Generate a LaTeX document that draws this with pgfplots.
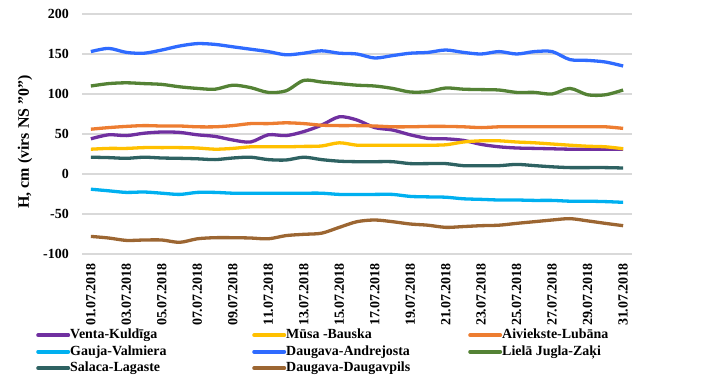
\documentclass[border=0pt]{standalone}
\usepackage{pgfplots}
\pgfplotsset{compat=1.18}
\usepackage{fontspec}
\setmainfont{Liberation Serif}
\definecolor{cVenta}{HTML}{7030A0}
\definecolor{cMusa}{HTML}{FFC000}
\definecolor{cAiv}{HTML}{ED7D31}
\definecolor{cGauja}{HTML}{00B0F0}
\definecolor{cAndr}{HTML}{2F6BFF}
\definecolor{cJugla}{HTML}{548235}
\definecolor{cSalaca}{HTML}{2E6262}
\definecolor{cDpils}{HTML}{9C6632}
\definecolor{gridgray}{HTML}{D9D9D9}
\begin{document}
\begin{tikzpicture}
\begin{axis}[
  at={(82bp,-254bp)}, anchor=south west,
  scale only axis, width=550bp, height=240bp,
  xmin=-0.5, xmax=30.5, ymin=-100, ymax=200,
  ytick={-100,-50,0,50,100,150,200},
  xtick={0,2,...,30},
  xticklabels={01.07.2018,03.07.2018,05.07.2018,07.07.2018,09.07.2018,11.07.2018,13.07.2018,15.07.2018,17.07.2018,19.07.2018,21.07.2018,23.07.2018,25.07.2018,27.07.2018,29.07.2018,31.07.2018},
  axis line style={draw=none},
  major tick length=0pt,
  ymajorgrids, grid style={color=gridgray, line width=1.2bp},
  /pgf/number format/assume math mode=true,
  tick label style={font=\fontsize{14}{16}\selectfont\bfseries, text=black},
  xticklabel style={rotate=90, anchor=east, inner ysep=0pt, inner xsep=9bp},
  yticklabel style={anchor=east, inner xsep=0pt, xshift=-13bp},
  ylabel={H, cm (virs NS "0")},
  ylabel style={font=\fontsize{16}{18}\selectfont\bfseries, at={(rel axis cs:-0.1036,0.467)}, anchor=center, rotate=0},
  legend columns=3,
  legend style={at={(rel axis cs:-0.0836,-0.3125)}, anchor=north west, draw=none, fill=none, inner sep=0pt,
    row sep=4.5bp, column sep=0pt, font=\fontsize{14}{16}\selectfont\bfseries,
    nodes={inner sep=0pt, text height=9.5bp, text depth=2.5bp}},
  legend image code/.code={\draw[#1, line width=4bp, line cap=round] (2bp,0bp) -- (32bp,0bp);},
  every axis plot/.append style={line width=3.3bp, smooth, tension=0.5, no marks},
]
\addplot[color=cVenta] coordinates {(0,44)(1,49)(2,48)(3,51)(4,52.5)(5,52)(6,49)(7,47)(8,42.5)(9,40)(10,49)(11,48)(12,53)(13,61)(14,71.5)(15,67.5)(16,58)(17,55)(18,49)(19,44.5)(20,44)(21,42)(22,37)(23,34)(24,32.5)(25,32)(26,31.5)(27,31)(28,31)(29,31)(30,31)};
\addlegendentry{\makebox[182bp][l]{Venta-Kuldīga}}
\addplot[color=cMusa] coordinates {(0,31)(1,32)(2,32)(3,33)(4,33)(5,33)(6,32.5)(7,31)(8,32)(9,34)(10,34)(11,34)(12,34.5)(13,35)(14,39)(15,36)(16,36)(17,36)(18,36)(19,36)(20,36.5)(21,40)(22,41.5)(23,41.5)(24,40)(25,39)(26,37.5)(27,36)(28,34.7)(29,34)(30,31.6)};
\addlegendentry{\makebox[182bp][l]{Mūsa -Bauska}}
\addplot[color=cAiv] coordinates {(0,56)(1,58)(2,59.5)(3,60.5)(4,60)(5,60)(6,59)(7,59)(8,60.5)(9,63)(10,63)(11,64)(12,63)(13,61)(14,60.5)(15,60.5)(16,60)(17,59)(18,59)(19,59.5)(20,59.5)(21,59)(22,58)(23,59)(24,59)(25,59)(26,59)(27,59)(28,59)(29,59)(30,57)};
\addlegendentry{\makebox[182bp][l]{Aiviekste-Lubāna}}
\addplot[color=cGauja] coordinates {(0,-19)(1,-21)(2,-23)(3,-22.5)(4,-24)(5,-25.5)(6,-23)(7,-23)(8,-24)(9,-24)(10,-24)(11,-24)(12,-24)(13,-24)(14,-25.5)(15,-25.5)(16,-25.5)(17,-25.5)(18,-28)(19,-28.6)(20,-29)(21,-31)(22,-31.7)(23,-32.5)(24,-32.5)(25,-33)(26,-33)(27,-34)(28,-34)(29,-34.5)(30,-35.4)};
\addlegendentry{\makebox[182bp][l]{Gauja-Valmiera}}
\addplot[color=cAndr] coordinates {(0,153)(1,157)(2,152)(3,151)(4,155)(5,160)(6,163)(7,162)(8,159)(9,156)(10,153)(11,149)(12,151)(13,154)(14,151)(15,150)(16,145)(17,148)(18,151)(19,152)(20,155)(21,152)(22,150)(23,153)(24,150)(25,153)(26,153)(27,143)(28,142)(29,140)(30,135)};
\addlegendentry{\makebox[182bp][l]{Daugava-Andrejosta}}
\addplot[color=cJugla] coordinates {(0,110)(1,113)(2,114)(3,113)(4,112)(5,109)(6,107)(7,106)(8,111)(9,108)(10,102)(11,104)(12,117)(13,115)(14,113)(15,111)(16,110)(17,107)(18,102.5)(19,103)(20,107.5)(21,106)(22,105.5)(23,105)(24,102)(25,102)(26,100)(27,107)(28,99)(29,99)(30,105)};
\addlegendentry{\makebox[182bp][l]{Lielā Jugla-Zaķi}}
\addplot[color=cSalaca] coordinates {(0,21)(1,20.5)(2,19.6)(3,21)(4,20)(5,19.6)(6,19)(7,18)(8,20)(9,21)(10,18)(11,17.5)(12,21)(13,18)(14,16)(15,15.4)(16,15.4)(17,15.4)(18,13)(19,13)(20,13)(21,10.4)(22,10.4)(23,10.4)(24,12)(25,10.5)(26,9)(27,8)(28,8)(29,8)(30,7.5)};
\addlegendentry{\makebox[182bp][l]{Salaca-Lagaste}}
\addplot[color=cDpils] coordinates {(0,-78)(1,-80)(2,-83)(3,-82.5)(4,-82.5)(5,-85.4)(6,-81)(7,-79.6)(8,-79.6)(9,-80)(10,-81)(11,-77)(12,-75.4)(13,-74)(14,-66.7)(15,-59.6)(16,-57.5)(17,-59.6)(18,-62.5)(19,-64)(20,-66.7)(21,-65.7)(22,-64.6)(23,-64)(24,-61.7)(25,-59.6)(26,-57.5)(27,-55.8)(28,-58.6)(29,-61.7)(30,-64.6)};
\addlegendentry{\makebox[182bp][l]{Daugava-Daugavpils}}
\end{axis}
\pgfresetboundingbox
\path (0,0) rectangle (703bp,-383bp);
\end{tikzpicture}
\end{document}
